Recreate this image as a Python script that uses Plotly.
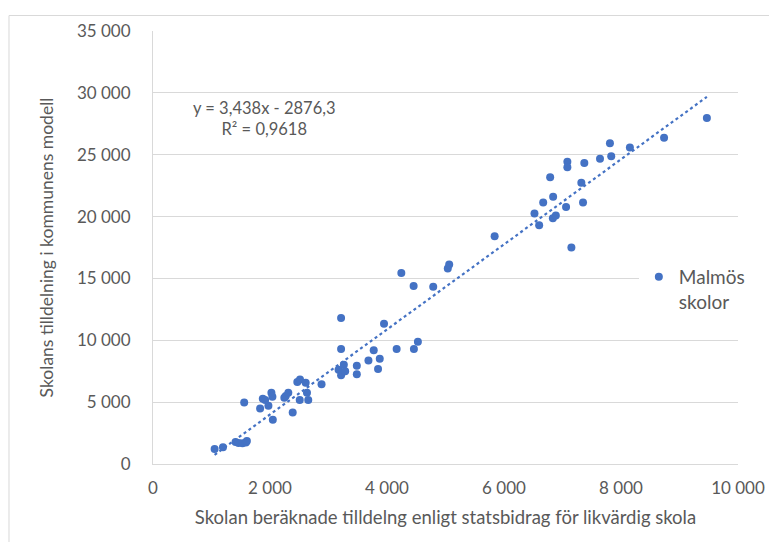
import plotly.graph_objects as go

# Data
x_vals = [1053, 1196, 1411, 1462, 1530, 1588, 1605, 1559, 1831, 1877,
          1917, 1973, 2024, 2041, 2048, 2245, 2269, 2313, 2388, 2467,
          2513, 2508, 2610, 2632, 2654, 2881, 3215, 3215, 3172, 3215,
          3262, 3285, 3484, 3484, 3683, 3773, 3876, 3847, 3949, 4165,
          4460, 4528, 4455, 4245, 4790, 5039, 5063, 5840, 6521, 6601,
          6670, 6789, 6840, 6835, 6886, 7061, 7083, 7083, 7152, 7322,
          7351, 7373, 7641, 7811, 7833, 8152, 8736, 9468]
y_vals = [1219, 1355, 1777, 1697, 1673, 1729, 1857, 4964, 4486, 5283,
          5179, 4701, 5761, 5442, 3586, 5363, 5498, 5761, 4167, 6637,
          6829, 5179, 6558, 5761, 5179, 6454, 11793, 9299, 7625, 7171,
          8024, 7490, 7944, 7251, 8367, 9187, 8502, 7673, 11339, 9299,
          9299, 9880, 14398, 15434, 14319, 15801, 16120, 18406, 20239, 19307,
          21139, 23187, 21594, 19865, 20080, 20773, 24438, 23984, 17506, 22733,
          21139, 24327, 24677, 25920, 24884, 25578, 26375, 27968]

slope = 3.438
intercept = -2876.3
r2 = 0.9618
series_name = "Malmös<br>skolor"
x_title = "Skolan beräknade tilldelng enligt statsbidrag för likvärdig skola"
y_title = "Skolans tilldelning i kommunens modell"

blue = "#4472C4"
grey_txt = "#595959"
grid = "#D9D9D9"
FONT = "Lato"

x_min, x_max = min(x_vals), max(x_vals)
trend_x = [x_min, x_max]
trend_y = [slope * v + intercept for v in trend_x]

fig = go.Figure()
fig.add_trace(go.Scatter(
    x=trend_x, y=trend_y, mode="lines",
    line=dict(color=blue, width=2.2, dash="dot"),
    showlegend=False, hoverinfo="skip"))
fig.add_trace(go.Scatter(
    x=x_vals, y=y_vals, mode="markers", name=series_name,
    marker=dict(color=blue, size=8, line=dict(width=0))))

# page body has an 8px margin, so compensate
OFF = 8
W, H = 777 - OFF, 542 - OFF
L, R, T, B = 152.5, 739.5, 24.7, 464   # target screen positions of plot area
fig.update_layout(
    width=W, height=H,
    margin=dict(l=L - OFF, r=W - (R - OFF), t=T - OFF, b=H - (B - OFF), pad=0),
    paper_bgcolor="white", plot_bgcolor="white",
    separators=", ",
    font=dict(family=FONT, size=17, color=grey_txt),
    showlegend=True,
    legend=dict(x=(640 - L) / (R - L), y=(464 - 255) / (B - T),
                xanchor="left", yanchor="top",
                bgcolor="white", borderwidth=0,
                font=dict(family=FONT, size=19, color=grey_txt),
                valign="top", itemwidth=30,
                tracegroupgap=0),
    xaxis=dict(range=[0, 10000], dtick=2000, tickformat=",d",
               showgrid=False, zeroline=False,
               showline=True, linecolor=grid, linewidth=1,
               ticks="outside", ticklen=9, tickcolor="rgba(0,0,0,0)",
               tickfont=dict(size=17, color=grey_txt),
               title=dict(text=x_title, standoff=13,
                          font=dict(size=18.5, color=grey_txt))),
    yaxis=dict(range=[0, 35000], dtick=5000, tickformat=",d",
               showgrid=True, gridcolor=grid, gridwidth=1, zeroline=False,
               showline=True, linecolor=grid, linewidth=1,
               ticks="outside", ticklen=18, tickcolor="rgba(0,0,0,0)",
               tickfont=dict(size=17, color=grey_txt),
               title=dict(text=y_title, standoff=18,
                          font=dict(size=17.5, color=grey_txt))),
)

fig.add_annotation(
    xref="paper", yref="paper",
    x=(264 - L) / (R - L), y=(464 - 113) / (B - T),
    xanchor="center", yanchor="middle",
    text=f"y = {str(slope).replace('.', ',')}x - {str(-intercept).replace('.', ',')}<br>"
         f"R² = {str(r2).replace('.', ',')}",
    showarrow=False, align="center",
    font=dict(family=FONT, size=16.5, color=grey_txt))

# Chart area border (light grey)
fig.add_shape(type="rect", xref="paper", yref="paper",
              x0=(8 - L) / (R - L), x1=(800 - L) / (R - L),
              y0=(464 - 560) / (B - T), y1=(464 - 9) / (B - T),
              line=dict(color=grid, width=1), fillcolor="rgba(0,0,0,0)",
              layer="below")

fig.write_html("out.html")
